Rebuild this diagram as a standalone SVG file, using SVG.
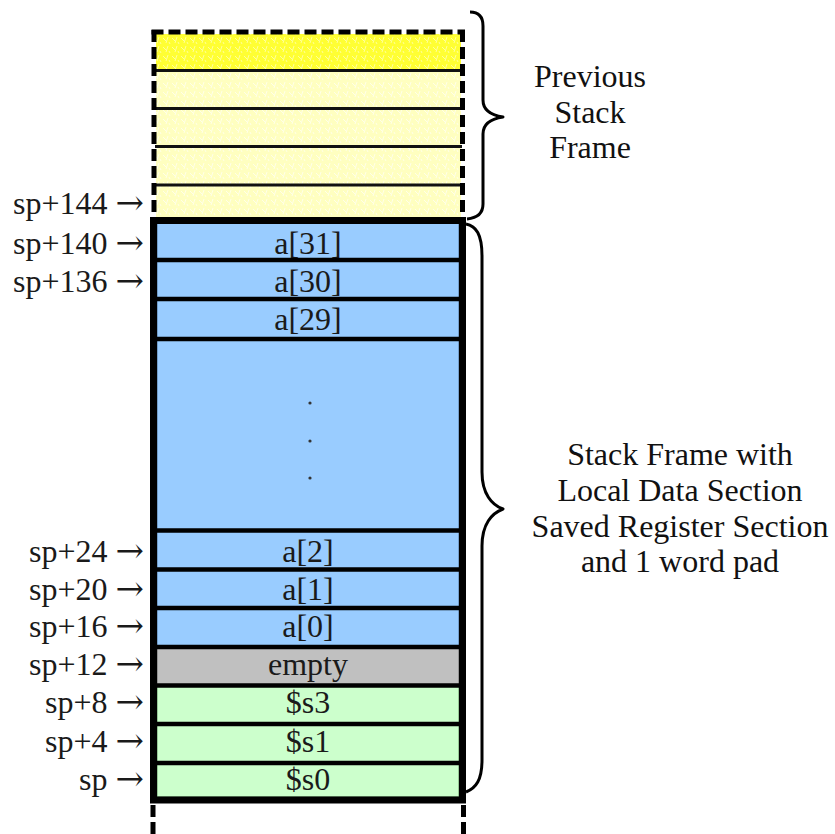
<svg xmlns="http://www.w3.org/2000/svg" width="835" height="834" viewBox="0 0 835 834">
  <defs>
    <pattern id="ybright" width="9" height="9" patternUnits="userSpaceOnUse">
      <rect width="9" height="9" fill="#FFFF33"/>
      <path d="M1,2 l3,3 M6,1 l-2,6 M7,6 l1,2" stroke="#FFFF99" stroke-width="1" fill="none"/>
    </pattern>
    <pattern id="ypale" width="9" height="9" patternUnits="userSpaceOnUse">
      <rect width="9" height="9" fill="#FFFFC0"/>
      <path d="M1,2 l3,3 M6,1 l-2,6 M7,6 l1,2" stroke="#FFFFE8" stroke-width="1" fill="none"/>
    </pattern>
  </defs>
  <style>
    text { font-family: "Liberation Serif", "Times New Roman", serif; font-size: 32px; fill: #1a1a1a; }
    .cell { text-anchor: middle; }
    .lbl { text-anchor: end; }
    .arr { font-family: "DejaVu Serif", "Liberation Serif", serif; font-size: 34px; }
    .note { text-anchor: middle; fill: #111; }
    .blue { fill: #99CCFF; stroke: #4d6f94; stroke-width: 1; }
    .gray { fill: #C0C0C0; stroke: #666; stroke-width: 1; }
    .green { fill: #CCFFCC; stroke: #5f8f5f; stroke-width: 1; }
    .sep { stroke: #000; stroke-width: 4.5; }
    .ysep { stroke: #111; stroke-width: 3; }
    .dash { stroke: #000; stroke-width: 5; stroke-dasharray: 12 5; fill: none; }
    .brace { fill: none; stroke: #000; stroke-width: 3; stroke-linejoin: round; }
  </style>
  <rect width="835" height="834" fill="#FFFFFF"/>

  <!-- Previous stack frame -->
  <g id="previous-frame">
    <rect x="156" y="34" width="305" height="36" fill="url(#ybright)"/>
    <rect x="156" y="70" width="305" height="148" fill="url(#ypale)"/>
    <line class="ysep" x1="155" y1="70.5" x2="462" y2="70.5"/>
    <line class="ysep" x1="155" y1="108.5" x2="462" y2="108.5"/>
    <line class="ysep" x1="155" y1="146.5" x2="462" y2="146.5"/>
    <line class="ysep" x1="155" y1="185" x2="462" y2="185"/>
    <line class="dash" x1="151.5" y1="32" x2="465" y2="32"/>
    <line class="dash" x1="154" y1="30" x2="154" y2="218"/>
    <line class="dash" x1="462.5" y1="30" x2="462.5" y2="218"/>
    <text class="lbl" x="144" y="214">sp+144 <tspan class="arr">→</tspan></text>
  </g>

  <!-- Current stack frame cells -->
  <g id="cell-a31">
    <rect class="blue" x="157" y="222" width="302" height="38"/>
    <text class="cell" x="308" y="254">a[31]</text>
    <text class="lbl" x="144" y="254">sp+140 <tspan class="arr">→</tspan></text>
  </g>
  <g id="cell-a30">
    <rect class="blue" x="157" y="260" width="302" height="39"/>
    <text class="cell" x="308" y="292">a[30]</text>
    <text class="lbl" x="144" y="292">sp+136 <tspan class="arr">→</tspan></text>
  </g>
  <g id="cell-a29">
    <rect class="blue" x="157" y="299" width="302" height="40"/>
    <text class="cell" x="308" y="330">a[29]</text>
  </g>
  <g id="cell-ellipsis">
    <rect class="blue" x="157" y="339" width="302" height="191.5"/>
    <circle cx="310" cy="403" r="1.6" fill="#333"/>
    <circle cx="310" cy="441" r="1.6" fill="#333"/>
    <circle cx="310" cy="478" r="1.6" fill="#333"/>
  </g>
  <g id="cell-a2">
    <rect class="blue" x="157" y="530.5" width="302" height="39"/>
    <text class="cell" x="308" y="562">a[2]</text>
    <text class="lbl" x="144" y="562">sp+24 <tspan class="arr">→</tspan></text>
  </g>
  <g id="cell-a1">
    <rect class="blue" x="157" y="569.5" width="302" height="38.5"/>
    <text class="cell" x="308" y="600">a[1]</text>
    <text class="lbl" x="144" y="600">sp+20 <tspan class="arr">→</tspan></text>
  </g>
  <g id="cell-a0">
    <rect class="blue" x="157" y="608" width="302" height="39"/>
    <text class="cell" x="308" y="637">a[0]</text>
    <text class="lbl" x="144" y="637">sp+16 <tspan class="arr">→</tspan></text>
  </g>
  <g id="cell-empty">
    <rect class="gray" x="157" y="647" width="302" height="38.5"/>
    <text class="cell" x="308" y="675">empty</text>
    <text class="lbl" x="144" y="675">sp+12 <tspan class="arr">→</tspan></text>
  </g>
  <g id="cell-s3">
    <rect class="green" x="157" y="685.5" width="302" height="38.5"/>
    <text class="cell" x="308" y="713">$s3</text>
    <text class="lbl" x="144" y="713">sp+8 <tspan class="arr">→</tspan></text>
  </g>
  <g id="cell-s1">
    <rect class="green" x="157" y="724" width="302" height="39"/>
    <text class="cell" x="308" y="752">$s1</text>
    <text class="lbl" x="144" y="752">sp+4 <tspan class="arr">→</tspan></text>
  </g>
  <g id="cell-s0">
    <rect class="green" x="157" y="763" width="302" height="34"/>
    <text class="cell" x="308" y="790">$s0</text>
    <text class="lbl" x="144" y="790">sp <tspan class="arr">→</tspan></text>
  </g>

  <!-- Frame lines -->
  <g id="connectors">
    <line class="sep" x1="153" y1="260" x2="462" y2="260"/>
    <line class="sep" x1="153" y1="299" x2="462" y2="299"/>
    <line class="sep" x1="153" y1="339" x2="462" y2="339"/>
    <line class="sep" x1="153" y1="530.5" x2="462" y2="530.5"/>
    <line class="sep" x1="153" y1="569.5" x2="462" y2="569.5"/>
    <line class="sep" x1="153" y1="608" x2="462" y2="608"/>
    <line class="sep" x1="153" y1="647" x2="462" y2="647"/>
    <line class="sep" x1="153" y1="685.5" x2="462" y2="685.5"/>
    <line class="sep" x1="153" y1="724" x2="462" y2="724"/>
    <line class="sep" x1="153" y1="763" x2="462" y2="763"/>
    <rect x="153.5" y="220.5" width="309" height="579.5" fill="none" stroke="#000" stroke-width="7"/>
    <line class="dash" x1="153" y1="805" x2="153" y2="834" stroke-dasharray="10 5"/>
    <line class="dash" x1="463.5" y1="805" x2="463.5" y2="834" stroke-dasharray="3 5 14 5"/>
    <path class="brace" d="M470,12 C478,12 483,16 483,26 L483,100 C483,110 490,115 503,117 C490,119 483,124 483,134 L483,204 C483,213 477,218 467,219"/>
    <path class="brace" d="M466,224 C476,226 482,234 482,256 L482,472 C482,494 492,505 503,509 C492,513 482,524 482,546 L482,760 C482,780 476,788 466,792"/>
  </g>

  <!-- Annotations -->
  <g id="label-previous">
    <text class="note" x="590" y="87">Previous</text>
    <text class="note" x="590" y="123">Stack</text>
    <text class="note" x="590" y="158">Frame</text>
  </g>
  <g id="label-current">
    <text class="note" x="680" y="465">Stack Frame with</text>
    <text class="note" x="680" y="501">Local Data Section</text>
    <text class="note" x="680" y="537">Saved Register Section</text>
    <text class="note" x="680" y="572">and 1 word pad</text>
  </g>
</svg>
